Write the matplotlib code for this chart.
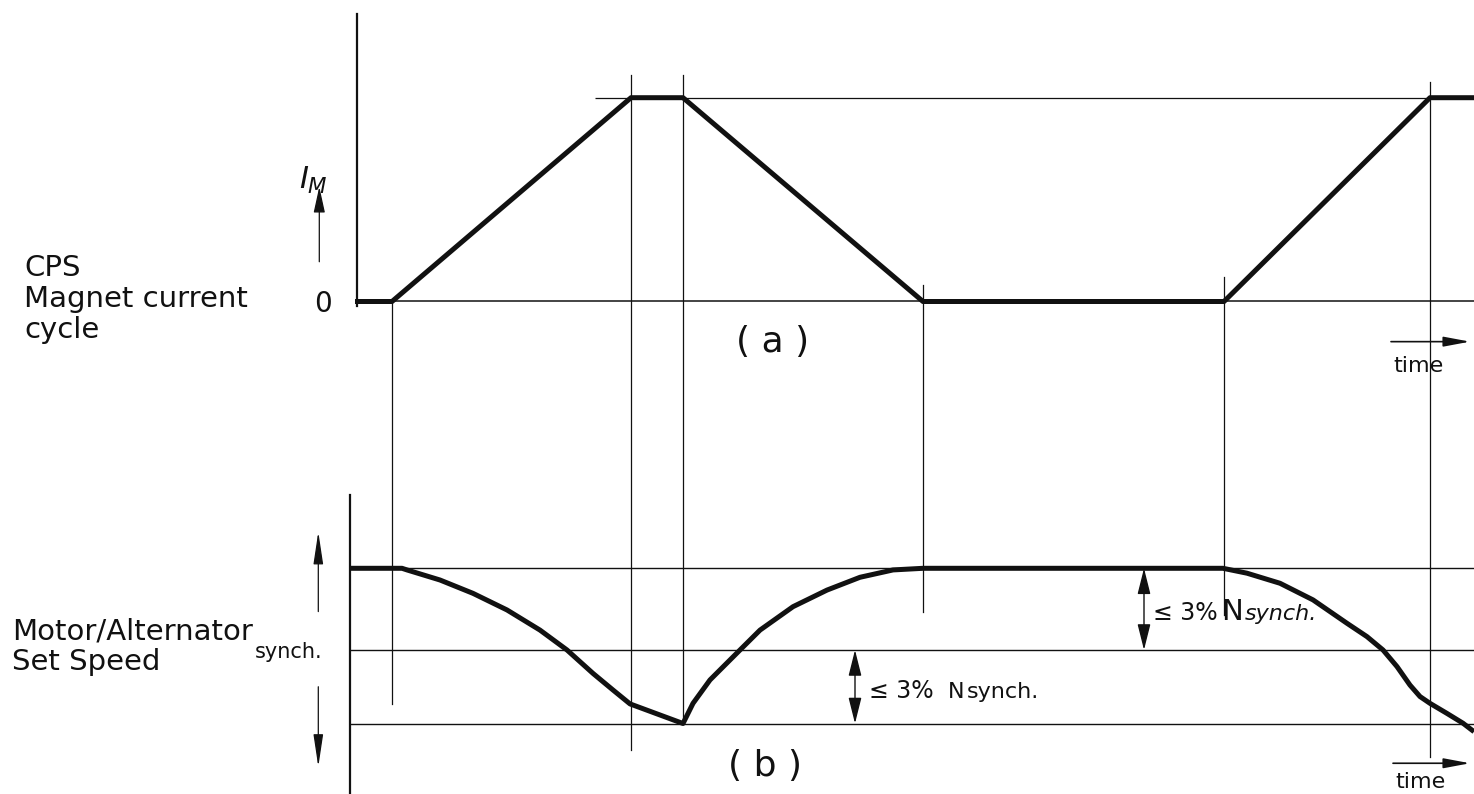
import matplotlib
matplotlib.use("Agg")
import matplotlib.pyplot as plt
from matplotlib.transforms import blended_transform_factory

plt.rcParams['font.family'] = ['DejaVu Sans']

# magnet current cycle: breakpoints in time and normalised current I_M
t_current = [-0.02, 0.35, 2.74, 3.26, 5.66, 8.67, 10.73, 11.17]
i_current = [0.0, 0.0, 1.0, 1.0, 0.0, 0.0, 1.0, 1.0]

# motor/alternator set speed, deviation from synchronous speed (%)
t_speed = [-0.07, 0.45, 0.50, 0.83, 1.16, 1.50, 1.83, 2.10, 2.36, 2.56, 2.73,
           3.26, 3.36, 3.53, 3.83, 4.03, 4.36, 4.70, 5.03, 5.36, 5.66,
           8.66, 8.90, 9.23, 9.56, 9.90, 10.10, 10.26, 10.40, 10.53, 10.63,
           10.73, 10.90, 11.06, 11.17]
n_speed = [3.0, 3.0, 2.94, 2.57, 2.08, 1.47, 0.73, 0.0, -0.86, -1.47, -1.98,
           -2.7, -1.96, -1.10, 0.0, 0.73, 1.59, 2.20, 2.67, 2.94, 3.0,
           3.0, 2.82, 2.45, 1.84, 0.98, 0.49, 0.0, -0.61, -1.29, -1.71,
           -1.96, -2.33, -2.69, -3.0]
n_levels = [3.0, 0.0, -2.7]   # upper limit, synch., lower limit

W, H = 1474, 794
t_min, t_max = -3.57, 11.17
ink = '#111111'


def fy(py):
    # pixel row -> figure fraction
    return 1 - py / H


fig = plt.figure(figsize=(W / 100, H / 100), dpi=100)
fig.patch.set_facecolor('white')

ax_a = fig.add_axes([0, fy(301.5), 1, (301.5 - 97.7) / H])
ax_b = fig.add_axes([0, fy(723.5), 1, (723.5 - 568.3) / H])

for ax in (ax_a, ax_b):
    ax.set_xlim(t_min, t_max)
    ax.patch.set_alpha(0)
    ax.set_xticks([])
    ax.spines['top'].set_visible(False)
    ax.spines['right'].set_visible(False)
    ax.spines['bottom'].set_visible(False)
    ax.spines['left'].set_linewidth(1.6)
    ax.spines['left'].set_color(ink)
    ax.tick_params(axis='y', length=0, labelsize=20, labelcolor=ink)

# ---- (a) magnet current ----
ax_a.set_ylim(0, 1)
ax_a.spines['left'].set_position(('data', 0))
ax_a.spines['left'].set_bounds(-0.02, 1.41)
ax_a.set_yticks([0], ['0'])
ax_a.tick_params(axis='y', pad=18)
ax_a.hlines(0, 0, t_max, color=ink, lw=1.1, clip_on=False)
ax_a.hlines(1, 2.38, t_max, color=ink, lw=0.9, clip_on=False)
ax_a.plot(t_current, i_current, color=ink, lw=3.6, solid_joinstyle='round',
          solid_capstyle='butt', clip_on=False, zorder=5)

ax_a.annotate('', xy=(-0.377, 0.563), xytext=(-0.377, 0.195),
              arrowprops=dict(arrowstyle='-|>,head_length=1.6,head_width=0.35',
                              color=ink, lw=0.9, mutation_scale=10,
                              shrinkA=0, shrinkB=0), annotation_clip=False)
ax_a.text(-0.44, 0.52, r'$I_M$', fontsize=22, ha='center', va='bottom', color=ink)
ax_a.text(4.16, -0.20, '( a )', fontsize=26, ha='center', va='center', color=ink)
ax_a.annotate('', xy=(11.13, -0.197), xytext=(10.34, -0.197),
              arrowprops=dict(arrowstyle='-|>,head_length=1.6,head_width=0.3',
                              color=ink, lw=1.2, mutation_scale=10,
                              shrinkA=0, shrinkB=0), annotation_clip=False)
ax_a.text(10.62, -0.317, 'time', fontsize=16, ha='center', va='center', color=ink)

# ---- (b) set speed ----
ax_b.set_ylim(n_levels[-1], n_levels[0])
ax_b.spines['left'].set_position(('data', -0.07))
ax_b.spines['left'].set_bounds(-5.4, 5.69)
ax_b.set_yticks([0], ['synch.'])
ax_b.tick_params(axis='y', pad=20, labelsize=15)
ax_b.hlines(n_levels, -0.07, t_max, color=ink, lw=1.0, clip_on=False)
ax_b.plot(t_speed, n_speed, color=ink, lw=3.6, solid_joinstyle='round',
          solid_capstyle='butt', clip_on=False, zorder=5)

arrow_long = dict(arrowstyle='-|>,head_length=2.0,head_width=0.3', color=ink,
                  lw=0.9, mutation_scale=10, shrinkA=0, shrinkB=0)
ax_b.annotate('', xy=(-0.387, 4.34), xytext=(-0.387, 1.41),
              arrowprops=arrow_long, annotation_clip=False)
ax_b.annotate('', xy=(-0.387, -4.29), xytext=(-0.387, -1.35),
              arrowprops=arrow_long, annotation_clip=False)

arrow_dim = dict(arrowstyle='<|-|>,head_length=1.6,head_width=0.4', color=ink,
                 lw=1.0, mutation_scale=10, shrinkA=0, shrinkB=0)
ax_b.annotate('', xy=(7.87, n_levels[0]), xytext=(7.87, n_levels[1]),
              arrowprops=arrow_dim, annotation_clip=False)
ax_b.annotate('', xy=(4.98, n_levels[1]), xytext=(4.98, n_levels[2]),
              arrowprops=arrow_dim, annotation_clip=False)

ax_b.text(7.96, 1.10, '≤ 3%', fontsize=17, va='baseline', color=ink)
ax_b.text(8.64, 1.10, 'N', fontsize=21, va='baseline', color=ink)
ax_b.text(8.88, 1.10, 'synch.', fontsize=16, style='italic', va='baseline', color=ink)
ax_b.text(5.12, -1.76, '≤ 3%', fontsize=17, va='baseline', color=ink)
ax_b.text(5.91, -1.76, 'N', fontsize=16, va='baseline', color=ink)
ax_b.text(6.10, -1.76, 'synch.', fontsize=16, va='baseline', color=ink)

ax_b.text(4.08, -4.26, '( b )', fontsize=26, ha='center', va='center', color=ink)
ax_b.annotate('', xy=(11.13, -4.16), xytext=(10.36, -4.16),
              arrowprops=dict(arrowstyle='-|>,head_length=1.6,head_width=0.3',
                              color=ink, lw=1.2, mutation_scale=10,
                              shrinkA=0, shrinkB=0), annotation_clip=False)
ax_b.text(10.63, -4.85, 'time', fontsize=16, ha='center', va='center', color=ink)

# ---- vertical construction lines through both diagrams ----
guide_rows = {0.35: (300, 704), 2.74: (75, 750), 3.26: (75, 723),
              5.66: (285, 612), 8.67: (277, 615), 10.73: (82, 757)}
tr = blended_transform_factory(ax_a.transData, fig.transFigure)
for t in t_current[1:-1]:
    top, bot = guide_rows[t]
    ax_a.plot([t, t], [fy(top), fy(bot)], transform=tr, color=ink, lw=0.9,
              clip_on=False)

# ---- side captions ----
fig.text(24 / W, fy(254), 'CPS\nMagnet current\ncycle', fontsize=21,
         ha='left', va='top', linespacing=1.14, color=ink)
fig.text(12 / W, fy(617), 'Motor/Alternator\nSet Speed', fontsize=21,
         ha='left', va='top', linespacing=1.12, color=ink)

fig.savefig('out.png', dpi=100, facecolor='white')
